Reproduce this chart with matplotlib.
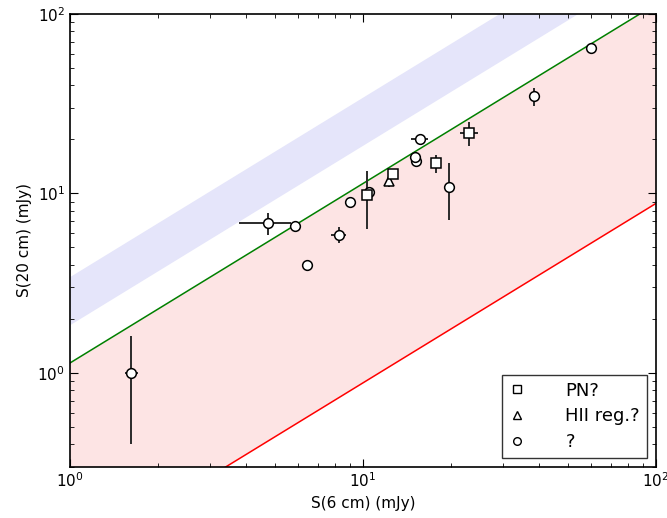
import matplotlib.pyplot as plt
import numpy as np
from matplotlib.lines import Line2D

# lines / bands: S(20cm) = k * S(6cm)
k_green = 1.136
k_red = 0.088
k_blue_lo = 1.86
k_blue_hi = 3.45

# PN?
pn_x = [10.3, 12.7, 17.8, 23.0]
pn_y = [9.85, 12.9, 14.7, 21.6]
pn_xerr = [0.4, 0.3, 0.6, 1.6]
pn_yerr = [3.5, 0.8, 1.7, 3.3]

# HII reg.?
hii_x = [12.3]
hii_y = [11.8]
hii_xerr = [0.3]
hii_yerr = [0.9]

# ?
unk_x = [1.62, 4.73, 5.84, 6.43, 8.25, 9.05, 10.5, 15.2, 15.1, 15.6, 19.6, 38.3, 60.0]
unk_y = [1.0, 6.81, 6.62, 4.01, 5.89, 8.92, 10.2, 15.1, 16.0, 20.2, 10.9, 34.9, 64.7]
unk_xerr = [0.08, 0.95, 0.15, 0.25, 0.47, 0.2, 0.3, 0.3, 0.6, 1.0, 0.5, 0.5, 0.5]
unk_yerr = [0.6, 0.95, 0.2, 0.15, 0.6, 0.4, 0.5, 0.6, 0.8, 0.8, 3.8, 4.0, 1.5]

fig = plt.figure(figsize=(6.67, 5.18), dpi=100)
ax = fig.add_axes([0.105, 0.099, 0.8785, 0.874])

x = np.logspace(0, 2, 200)
ax.fill_between(x, k_blue_lo * x, k_blue_hi * x, color="#e5e5fa", lw=0, zorder=0)
ax.fill_between(x, k_red * x, k_green * x, color="#fde4e4", lw=0, zorder=0)
ax.plot(x, k_green * x, color="green", lw=1.1, zorder=1)
ax.plot(x, k_red * x, color="red", lw=1.1, zorder=1)

eb = dict(fmt="none", ecolor="#2a2a2a", elinewidth=1.4, capsize=0, zorder=2)
mk = dict(ls="none", mfc="white", mec="black", mew=1.1, zorder=3)

ax.errorbar(unk_x, unk_y, xerr=unk_xerr, yerr=unk_yerr, **eb)
ax.plot(unk_x, unk_y, marker="o", ms=7, **mk)
ax.errorbar(hii_x, hii_y, xerr=hii_xerr, yerr=hii_yerr, **eb)
ax.plot(hii_x, hii_y, marker="^", ms=7, **mk)
ax.errorbar(pn_x, pn_y, xerr=pn_xerr, yerr=pn_yerr, **eb)
ax.plot(pn_x, pn_y, marker="s", ms=7, **mk)

ax.set_xscale("log")
ax.set_yscale("log")
ax.set_xlim(1, 100)
ax.set_ylim(0.3, 100)
ax.set_xlabel("S(6 cm) (mJy)", fontsize=11)
ax.set_ylabel("S(20 cm) (mJy)", fontsize=11)
ax.tick_params(which="both", direction="in", top=True, right=True, labelsize=11)
ax.tick_params(which="major", length=6)
ax.tick_params(which="minor", length=3)
for s in ax.spines.values():
    s.set_linewidth(1.2)

handles = [
    Line2D([], [], marker="s", ms=5.5, ls="none", mfc="white", mec="black"),
    Line2D([], [], marker="^", ms=5.5, ls="none", mfc="white", mec="black"),
    Line2D([], [], marker="o", ms=5.5, ls="none", mfc="white", mec="black"),
]
leg = ax.legend(handles, ["PN?", "HII reg.?", "?"], loc="lower right",
                fontsize=13, fancybox=False, edgecolor="black",
                handlelength=0.8, handletextpad=2.3, borderpad=0.4,
                labelspacing=0.42, borderaxespad=0,
                bbox_to_anchor=(0.985, 0.019))
leg.get_frame().set_linewidth(1.0)

fig.savefig("out.png", dpi=100)
